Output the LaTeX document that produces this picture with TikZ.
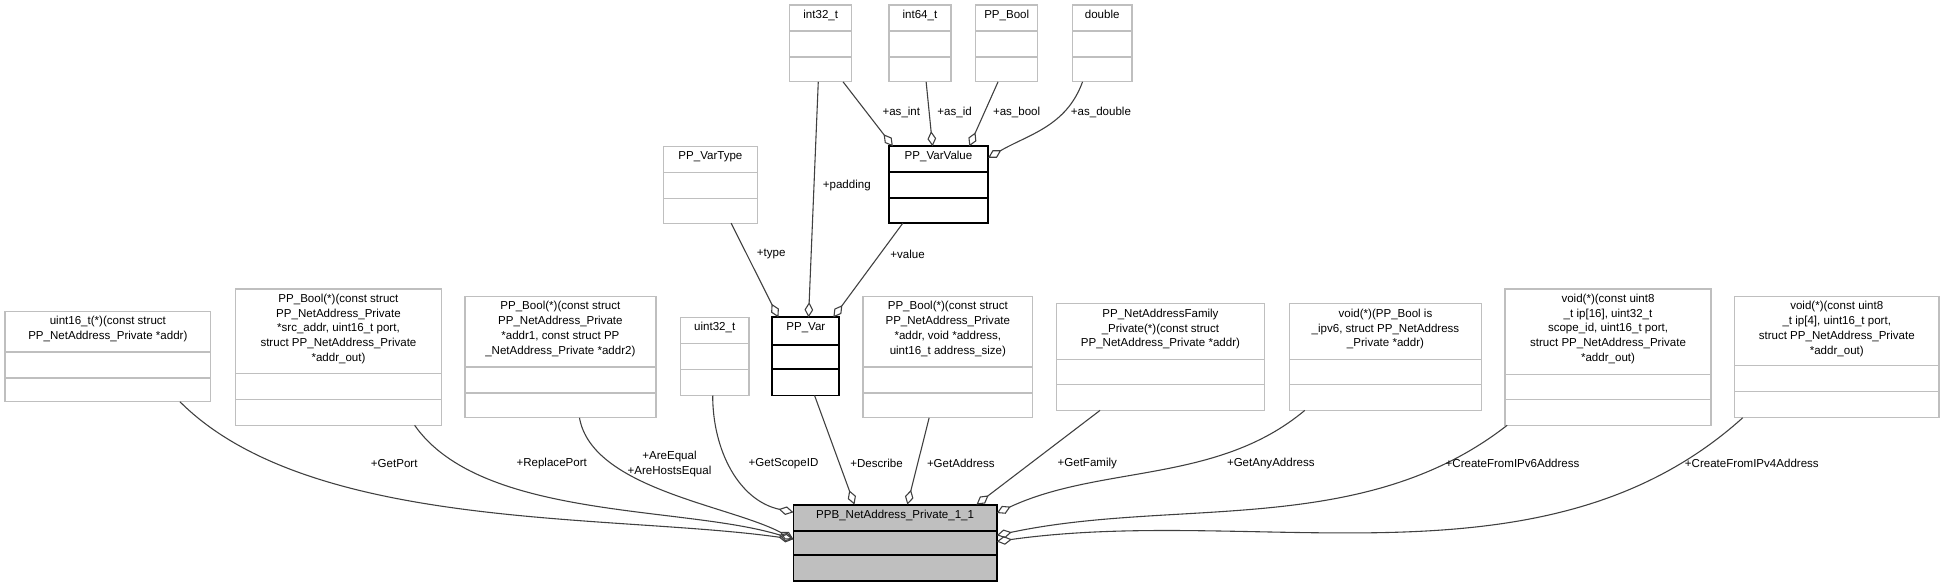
\documentclass[tikz,border=0pt]{standalone}
\usepackage{fontspec}
\setmainfont{Liberation Sans}
\usetikzlibrary{arrows.meta,calc,positioning}
\definecolor{boxgray}{HTML}{BFBFBF}
\definecolor{linegray}{HTML}{404040}

\tikzset{
  box/.style={draw=boxgray,line width=0.6pt,outer sep=0pt,inner sep=0pt},
  dark/.style={draw=black,line width=0.9pt},
  grayfill/.style={draw=black,line width=0.9pt,fill=boxgray},
  title/.style={font=\fontsize{5.3}{6.8}\selectfont,align=center,inner sep=1pt},
  lbl/.style={font=\fontsize{5.3}{6.8}\selectfont,align=center,inner sep=0pt},
  conn/.style={draw=linegray,line width=0.5pt,-{Diamond[open,length=7pt,width=4pt]}}
}
% name, x1, y1, x2, y2, first and second separator, style, text
\newcommand{\umlbox}[9]{%
  \node[box,#8,minimum width={(#4-#2)*0.02cm},minimum height={(#5-#3)*0.02cm},anchor=north west] (#1) at (#2,-#3) {};
  \draw[box,#8,fill=none] (#2,-#6) -- (#4,-#6) (#2,-#7) -- (#4,-#7);
  \node[title,anchor=north] at ({(#2+#4)/2},-#3-2) {#9};}

\begin{document}
\begin{tikzpicture}[x=0.02cm,y=0.02cm]
\useasboundingbox (0,0) rectangle (1568,-471);

% top row
\umlbox{int32}{637}{4}{687}{66}{25}{46}{}{int32\_t}
\umlbox{int64}{717}{4}{767}{66}{25}{46}{}{int64\_t}
\umlbox{ppbool}{787}{4}{837}{66}{25}{46}{}{PP\_Bool}
\umlbox{double}{865}{4}{913}{66}{25}{46}{}{double}
\umlbox{vartype}{535}{118}{611}{180}{139}{160}{}{PP\_VarType}
\umlbox{varvalue}{717}{118}{797}{180}{139}{160}{dark}{PP\_VarValue}

% middle row
\umlbox{getport}{4}{251}{170}{324}{284}{305}{}{uint16\_t(*)(const struct\\ PP\_NetAddress\_Private *addr)}
\umlbox{replaceport}{190}{233}{356}{343}{301}{322}{}{PP\_Bool(*)(const struct\\ PP\_NetAddress\_Private\\ *src\_addr, uint16\_t port,\\ struct PP\_NetAddress\_Private\\ *addr\_out)}
\umlbox{areequal}{375}{239}{529}{337}{296}{317}{}{PP\_Bool(*)(const struct\\ PP\_NetAddress\_Private\\ *addr1, const struct PP\\ \_NetAddress\_Private *addr2)}
\umlbox{uint32}{549}{256}{604}{319}{277}{298}{}{uint32\_t}
\umlbox{ppvar}{623}{256}{677}{319}{278}{298}{dark}{PP\_Var}
\umlbox{getaddress}{696}{239}{833}{337}{296}{317}{}{PP\_Bool(*)(const struct\\ PP\_NetAddress\_Private\\ *addr, void *address,\\ uint16\_t address\_size)}
\umlbox{getfamily}{852}{245}{1020}{331}{290}{310}{}{PP\_NetAddressFamily\\ \_Private(*)(const struct\\ PP\_NetAddress\_Private *addr)}
\umlbox{getany}{1040}{245}{1195}{331}{290}{310}{}{void(*)(PP\_Bool is\\ \_ipv6, struct PP\_NetAddress\\ \_Private *addr)}
\umlbox{fromvsix}{1214}{233}{1380}{343}{302}{322}{}{void(*)(const uint8\\ \_t ip[16], uint32\_t\\ scope\_id, uint16\_t port,\\ struct PP\_NetAddress\_Private\\ *addr\_out)}
\umlbox{fromvfour}{1399}{239}{1564}{337}{295}{316}{}{void(*)(const uint8\\ \_t ip[4], uint16\_t port,\\ struct PP\_NetAddress\_Private\\ *addr\_out)}

% bottom
\umlbox{ppb}{640}{407}{804}{469}{428}{448}{grayfill}{PPB\_NetAddress\_Private\_1\_1}

% PP_VarValue members
\foreach \f/\a/\b in {int32/0.86/0.04, int64/0.6/0.44, ppbool/0.36/0.81}
  \draw[conn] ($(\f.south west)!\a!(\f.south east)$) -- ($(varvalue.north west)!\b!(varvalue.north east)$);
\draw[conn] ($(double.south west)!0.17!(double.south east)$) to[out=-110,in=30] ($(varvalue.north east)!0.15!(varvalue.south east)$);

% PP_Var members
\foreach \f/\a/\b in {int32/0.46/0.54, vartype/0.72/0.09, varvalue/0.14/0.91}
  \draw[conn] ($(\f.south west)!\a!(\f.south east)$) -- ($(ppvar.north west)!\b!(ppvar.north east)$);

% members entering from the left
\foreach \f/\a/\o/\i in {getport/0.85/-45/172, replaceport/0.87/-55/163, areequal/0.6/-80/152}
  \draw[conn] ($(\f.south west)!\a!(\f.south east)$) to[out=\o,in=\i,looseness=0.75] ($(ppb.north west)!0.45!(ppb.south west)$);
\draw[conn] ($(uint32.south west)!0.47!(uint32.south east)$) to[out=-90,in=168] ($(ppb.north west)!0.1!(ppb.south west)$);

% members entering from the top
\foreach \f/\a/\b in {ppvar/0.63/0.3, getaddress/0.39/0.56, getfamily/0.21/0.9}
  \draw[conn] ($(\f.south west)!\a!(\f.south east)$) -- ($(ppb.north west)!\b!(ppb.north east)$);

% members entering from the right
\foreach \f/\a/\b/\o/\i in {getany/0.08/0.11/-140/25, fromvsix/0.01/0.4/-142/12, fromvfour/0.04/0.48/-138/8}
  \draw[conn] ($(\f.south west)!\a!(\f.south east)$) to[out=\o,in=\i,looseness=0.9] ($(ppb.north east)!\b!(ppb.south east)$);

% connector labels
\foreach \x/\y/\t in {727/91/+as\_int, 770/91/+as\_id, 820/91/+as\_bool, 888/91/+as\_double,
  683/150/+padding, 622/205/+type, 732/205/+value,
  318/374/+GetPort, 445/374/+ReplacePort, 540/374/{+AreEqual\\+AreHostsEqual},
  632/374/+GetScopeID, 707/374/+Describe, 775/374/+GetAddress, 877/374/+GetFamily,
  1025/374/+GetAnyAddress, 1220/374/+CreateFromIPv6Address, 1413/374/+CreateFromIPv4Address}
  \node[lbl] at (\x,-\y) {\t};
\end{tikzpicture}
\end{document}
